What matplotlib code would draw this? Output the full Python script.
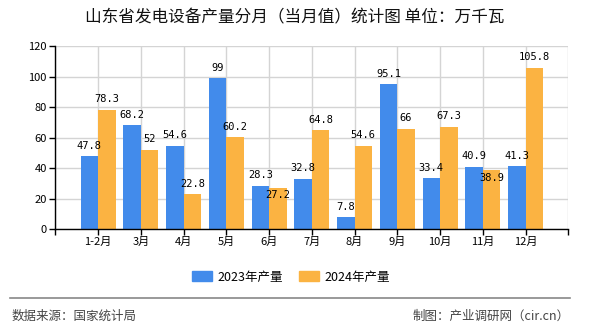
import matplotlib
matplotlib.use("Agg")
import matplotlib.pyplot as plt
from matplotlib.patches import Patch
from matplotlib.lines import Line2D

plt.rcParams['font.family'] = ['Noto Sans CJK SC', 'DejaVu Sans']

# data
months = ["1-2月", "3月", "4月", "5月", "6月", "7月", "8月", "9月", "10月", "11月", "12月"]
output_2023 = [47.8, 68.2, 54.6, 99, 28.3, 32.8, 7.8, 95.1, 33.4, 40.9, 41.3]
output_2024 = [78.3, 52, 22.8, 60.2, 27.2, 64.8, 54.6, 66, 67.3, 38.9, 105.8]
series_names = ["2023年产量", "2024年产量"]
y_ticks = [0, 20, 40, 60, 80, 100, 120]

BLUE = "#428BEB"
ORANGE = "#FBB342"


def fmt(v):
    return ("%g" % v)


fig = plt.figure(figsize=(5.9, 3.3), dpi=100)
ax = fig.add_axes([0.0937, 0.3061, 0.8695, 0.5536])

x = list(range(1, len(months) + 1))
w = 0.41
ax.bar([i - w / 2 for i in x], output_2023, w, color=BLUE, zorder=3)
ax.bar([i + w / 2 for i in x], output_2024, w, color=ORANGE, zorder=3)

# value labels, the lower one goes inside the bar when the two are close
for i, a, b in zip(x, output_2023, output_2024):
    for xi, v, other in ((i - w / 2, a, b), (i + w / 2, b, a)):
        inside = abs(a - b) < 5 and v < other
        ax.annotate(fmt(v), (xi, v), xytext=(0, -2 if inside else 4),
                    textcoords="offset points", ha="center",
                    va="top" if inside else "bottom",
                    fontsize=7.5, family="DejaVu Sans Mono", zorder=5)

ax.set_xlim(0, 12)
ax.set_ylim(0, 120)
ax.set_xticks(range(0, 13))
ax.set_xticklabels([""] + months + [""])
ax.set_yticks(y_ticks)
ax.tick_params(axis="both", labelsize=8, length=4, width=1, color="black", pad=2)

for sp in ("top", "right"):
    ax.spines[sp].set_visible(False)
for sp in ("left", "bottom"):
    ax.spines[sp].set_color("black")
    ax.spines[sp].set_linewidth(1)
    ax.spines[sp].set_zorder(4)

ax.grid(True, color="#d4d4d4", linewidth=1, zorder=0)
ax.set_axisbelow(True)

fig.text(0.5, 1 - 18 / 330, "山东省发电设备产量分月（当月值）统计图 单位：万千瓦",
         ha="center", va="center", fontsize=12, color="#111111")

handles = [Patch(color=BLUE), Patch(color=ORANGE)]
fig.legend(handles, series_names, loc="center", ncol=2,
           bbox_to_anchor=(291 / 590, 1 - 277 / 330), frameon=False,
           fontsize=9, handlelength=1.6, handleheight=0.8,
           handletextpad=0.4, columnspacing=1.3)

fig.add_artist(Line2D([10 / 590, 570 / 590], [1 - 298.3 / 330] * 2,
                      transform=fig.transFigure, color="#888888", linewidth=1.2))
fig.text(12 / 590, 1 - 316 / 330, "数据来源：国家统计局", ha="left", va="center",
         fontsize=9, color="#444444")
fig.text(570 / 590, 1 - 316 / 330, "制图：产业调研网（cir.cn）", ha="right",
         va="center", fontsize=9, color="#444444")

fig.savefig("out.png", dpi=100)
